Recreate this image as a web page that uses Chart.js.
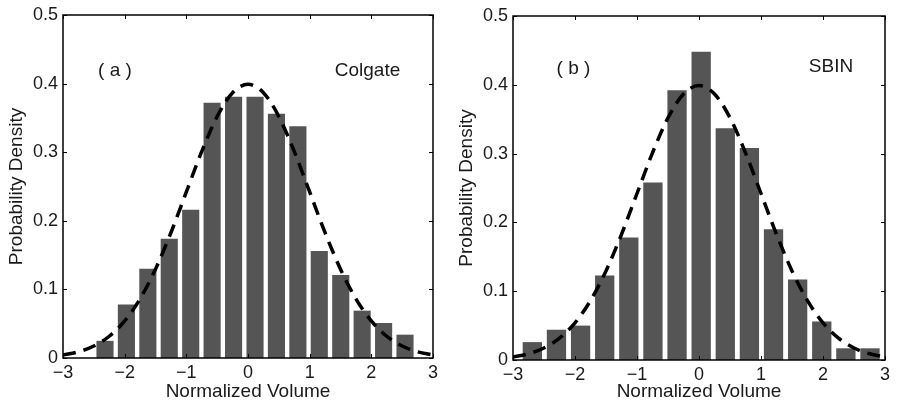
<!DOCTYPE html>
<html><head><meta charset="utf-8">
<script src="https://cdn.jsdelivr.net/npm/chart.js@4.4.1/dist/chart.umd.min.js"></script>
<style>
html,body{margin:0;padding:0;background:#fff;}
#wrap{position:relative;width:897px;height:405px;}
.panel{position:absolute;top:0;height:405px;}
</style></head><body>
<div id="wrap">
<div class="panel" style="left:0;width:450px"><canvas id="ca" width="450" height="405"></canvas></div>
<div class="panel" style="left:450px;width:447px"><canvas id="cb" width="447" height="405"></canvas></div>
</div>
<script>
const xTicks = [-3, -2, -1, 0, 1, 2, 3];
const yTicks = [0, 0.1, 0.2, 0.3, 0.4, 0.5];

const binCentersA = [-2.319, -1.972, -1.624, -1.277, -0.929, -0.582, -0.234, 0.114, 0.461, 0.809, 1.156, 1.504, 1.851, 2.199, 2.546];
const densityA    = [0.025, 0.078, 0.130, 0.174, 0.216, 0.372, 0.381, 0.381, 0.356, 0.338, 0.156, 0.121, 0.069, 0.051, 0.034];

const binCentersB = [-2.688, -2.299, -1.910, -1.521, -1.132, -0.743, -0.354, 0.035, 0.424, 0.813, 1.202, 1.591, 1.980, 2.369, 2.758];
const densityB    = [0.026, 0.044, 0.050, 0.123, 0.178, 0.258, 0.392, 0.448, 0.337, 0.308, 0.190, 0.117, 0.056, 0.017, 0.017];

const curveX = [-3, -2.75, -2.5, -2.25, -2, -1.75, -1.5, -1.25, -1, -0.75, -0.5, -0.25, 0, 0.25, 0.5, 0.75, 1, 1.25, 1.5, 1.75, 2, 2.25, 2.5, 2.75, 3];
const curveY = [0.0044, 0.0091, 0.0175, 0.0317, 0.0540, 0.0863, 0.1295, 0.1826, 0.2420, 0.3011, 0.3521, 0.3867, 0.3989, 0.3867, 0.3521, 0.3011, 0.2420, 0.1826, 0.1295, 0.0863, 0.0540, 0.0317, 0.0175, 0.0091, 0.0044];

const panelTags = ['( a )', '( b )'];
const stockNames = ['Colgate', 'SBIN'];
const xTitle = 'Normalized Volume';
const yTitle = 'Probability Density';

const FONT = '"Liberation Sans", Arial, Helvetica, sans-serif';

const framePlugin = {
  id: 'frame',
  afterDatasetsDraw(chart, args, opts) {
    const ctx = chart.ctx, a = chart.chartArea, x = chart.scales.x, y = chart.scales.y;
    ctx.save();
    ctx.strokeStyle = '#000';
    ctx.lineWidth = 1;
    ctx.beginPath();
    xTicks.forEach(v => {
      const px = Math.round(x.getPixelForValue(v)) + 0.5;
      ctx.moveTo(px, a.bottom); ctx.lineTo(px, a.bottom - 4);
      ctx.moveTo(px, a.top); ctx.lineTo(px, a.top + 4);
    });
    yTicks.forEach(v => {
      const py = Math.round(y.getPixelForValue(v)) + 0.5;
      ctx.moveTo(a.left, py); ctx.lineTo(a.left + 4, py);
      ctx.moveTo(a.right, py); ctx.lineTo(a.right - 4, py);
    });
    ctx.stroke();
    ctx.lineWidth = 1.5;
    ctx.strokeRect(a.left, a.top, a.right - a.left, a.bottom - a.top);
    ctx.font = '19px ' + FONT;
    ctx.fillStyle = '#1a1a1a';
    ctx.textAlign = 'center';
    ctx.textBaseline = 'middle';
    opts.texts.forEach(t => ctx.fillText(t.text, x.getPixelForValue(t.x), y.getPixelForValue(t.y)));
    ctx.restore();
  }
};

function makeChart(id, centers, density, lay, texts) {
  const ctx = document.getElementById(id);
  return new Chart(ctx, {
    type: 'bar',
    data: {
      datasets: [
        {
          type: 'line',
          data: curveX.map((v, i) => ({x: v, y: curveY[i]})),
          borderColor: '#000',
          borderWidth: 3.5,
          borderDash: [13, 8],
          pointRadius: 0,
          cubicInterpolationMode: 'monotone',
          fill: false,
          order: 0
        },
        {
          type: 'bar',
          data: centers.map((c, i) => ({x: c, y: density[i]})),
          backgroundColor: '#555555',
          borderWidth: 0,
          barPercentage: 0.8,
          categoryPercentage: 1.0,
          order: 1
        }
      ]
    },
    options: {
      responsive: false,
      devicePixelRatio: 1,
      animation: false,
      layout: {padding: {top: lay.top, right: lay.right, left: 0, bottom: 0}},
      plugins: {legend: {display: false}, tooltip: {enabled: false}, frame: {texts: texts}},
      scales: {
        x: {
          type: 'linear', offset: false, min: -3, max: 3,
          grid: {display: false, drawTicks: false},
          border: {display: false},
          afterBuildTicks: s => { s.ticks = xTicks.map(v => ({value: v})); },
          afterFit: s => { s.height = lay.xh; s.paddingLeft = 0; s.paddingRight = 0; },
          ticks: {
            padding: 4, color: '#1a1a1a', font: {family: FONT, size: 18},
            maxRotation: 0, autoSkip: false,
            callback: v => v < 0 ? '\u2212' + Math.abs(v) : String(v)
          },
          title: {display: true, text: xTitle, color: '#1a1a1a', font: {family: FONT, size: 19}, padding: {top: 0, bottom: 2}}
        },
        y: {
          type: 'linear', min: 0, max: 0.5,
          grid: {display: false, drawTicks: false},
          border: {display: false},
          afterBuildTicks: s => { s.ticks = yTicks.map(v => ({value: v})); },
          afterFit: s => { s.width = 63; s.paddingTop = 0; s.paddingBottom = 0; },
          ticks: {
            padding: 5, color: '#1a1a1a', font: {family: FONT, size: 18},
            callback: v => v === 0 ? '0' : v.toFixed(1)
          },
          title: {display: true, text: yTitle, color: '#1a1a1a', font: {family: FONT, size: 19}, padding: {top: 5, bottom: 0}}
        }
      }
    },
    plugins: [framePlugin]
  });
}

makeChart('ca', binCentersA, densityA, {top: 15, right: 17, xh: 47},
  [{text: panelTags[0], x: -2.157, y: 0.418}, {text: stockNames[0], x: 1.938, y: 0.418}]);
makeChart('cb', binCentersB, densityB, {top: 16, right: 12, xh: 45},
  [{text: panelTags[1], x: -2.024, y: 0.423}, {text: stockNames[1], x: 2.129, y: 0.426}]);
</script>
</body></html>
